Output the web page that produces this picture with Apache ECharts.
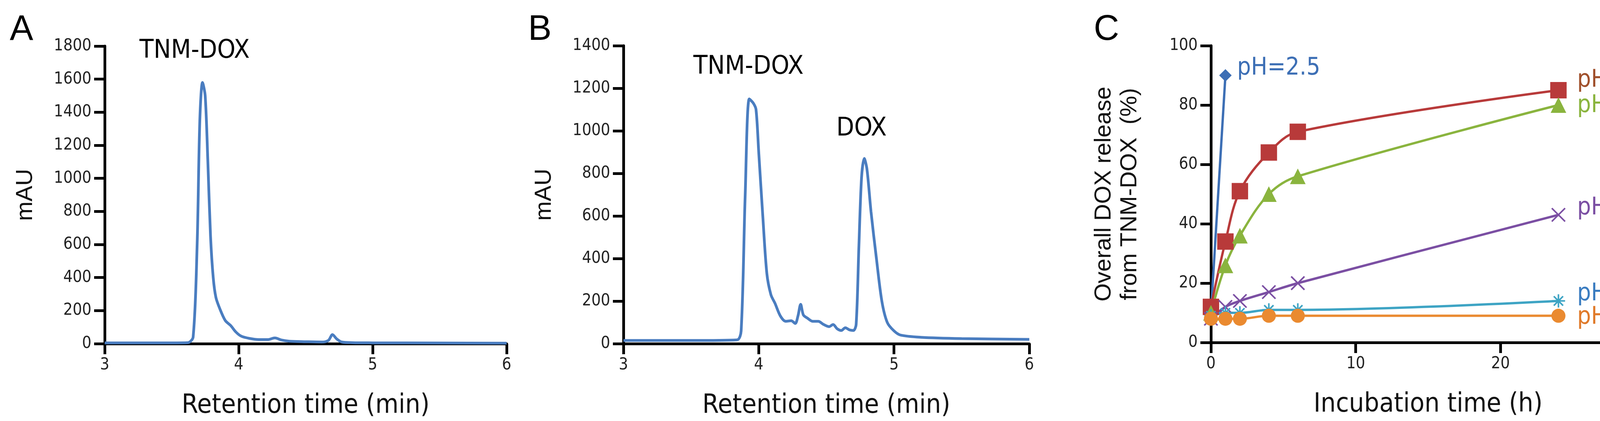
<!DOCTYPE html>
<html><head><meta charset="utf-8">
<script src="https://cdn.jsdelivr.net/npm/echarts@6/dist/echarts.min.js"></script>
<style>html,body{margin:0;padding:0;background:#fff}#c{width:4271px;height:1078px}</style>
</head><body><div id="c"></div>
<script>
// Panel A chromatogram (retention time min, mAU)
const timeA = [3.0,3.5,3.62,3.66,3.69,3.71,3.73,3.75,3.77,3.79,3.81,3.83,3.86,3.9,3.94,3.98,4.02,4.08,4.15,4.22,4.27,4.32,4.38,4.5,4.62,4.67,4.7,4.73,4.77,4.85,5.0,5.5,6.0];
const mauA  = [5,5,6,40,600,1350,1580,1500,1100,650,400,280,210,140,110,70,45,32,25,25,35,22,15,12,10,20,55,30,10,6,5,4,3];
// Panel B chromatogram
const timeB = [3.0,3.5,3.84,3.87,3.9,3.93,3.96,3.98,4.0,4.03,4.06,4.09,4.12,4.16,4.2,4.24,4.27,4.29,4.31,4.33,4.36,4.4,4.44,4.48,4.52,4.55,4.58,4.61,4.64,4.67,4.7,4.72,4.74,4.76,4.78,4.8,4.83,4.87,4.91,4.95,5.0,5.05,5.2,5.5,6.0];
const mauB  = [15,15,18,60,700,1150,1130,1100,900,600,330,230,190,130,105,108,95,130,185,135,120,105,105,90,80,90,70,62,75,65,62,90,450,780,870,820,620,400,200,100,60,40,30,24,20];
// Panel C release profiles (h, %)
const hours = [0,1,2,4,6,24];
const ph25 = [[0,10],[1,90]];
const ph46 = [12,34,51,64,71,85];
const ph50 = [10,26,36,50,56,80];
const ph55 = [8,12,14,17,20,43];
const ph64 = [9,10,10,11,11,14];
const ph74 = [8,8,8,9,9,9];

const F = '"Liberation Sans Narrow", "DejaVu Sans Condensed", "Liberation Sans", Arial, sans-serif';
const FS = '"Liberation Sans", Arial, sans-serif';
const axC = '#000';
function xAx(gi, min, max, interval, name){
  return {type:'value', gridIndex:gi, min, max, interval, name, nameLocation:'middle', nameGap:125,
    nameTextStyle:{fontSize:68, fontFamily:F, color:'#111'},
    axisLine:{lineStyle:{color:axC,width:7}}, axisTick:{length:27,lineStyle:{color:axC,width:7}},
    axisLabel:{fontSize:42, fontFamily:F, color:'#222', margin:34, formatter:v=>String(v)}, splitLine:{show:false}};
}
function yAx(gi, min, max, interval, name, gap, fs){
  return {type:'value', gridIndex:gi, min, max, interval, name, nameLocation:'middle', nameGap:gap,
    nameTextStyle:{fontSize:fs, fontFamily:FS, color:'#111', lineHeight:fs*1.1},
    axisLine:{show:true,lineStyle:{color:axC,width:7}}, axisTick:{show:true,length:27,lineStyle:{color:axC,width:7}},
    axisLabel:{fontSize:42, fontFamily:F, color:'#222', margin:34, formatter:v=>String(v)}, splitLine:{show:false}};
}
const chart = echarts.init(document.getElementById('c'));
const blue = '#4a7dc0';
const cSeries = [
  {name:'pH=2.5', data:ph25, color:'#3d6fb5', sym:'diamond', size:32, lc:'#3d6fb5', off:[0,-18], dist:30},
  {name:'pH=4.6', data:hours.map((h,i)=>[h,ph46[i]]), color:'#b83a3a', sym:'rect', size:42, lc:'#a0502c', off:[0,-25], dist:48},
  {name:'pH=5.0', data:hours.map((h,i)=>[h,ph50[i]]), color:'#8ab43e', sym:'triangle', size:40, lc:'#8ab43e', off:[0,2], dist:48},
  {name:'pH=5.5', data:hours.map((h,i)=>[h,ph55[i]]), color:'#7b4fa3', sym:'path://M0,0L10,10M10,0L0,10', size:34, lc:'#7b4fa3', off:[0,-17], dist:48, cross:true},
  {name:'pH=6.4', data:hours.map((h,i)=>[h,ph64[i]]), color:'#3ea4c4', sym:'path://M5,0L5,10M0,5L10,5M1.5,1.5L8.5,8.5M8.5,1.5L1.5,8.5', size:34, lc:'#3a7cc0', off:[0,-18], dist:48, cross:true},
  {name:'pH=7.4', data:hours.map((h,i)=>[h,ph74[i]]), color:'#ea8a30', sym:'circle', size:36, lc:'#e07a2a', off:[0,4], dist:48}
];
const series = [
  {type:'line', xAxisIndex:0, yAxisIndex:0, data:timeA.map((t,i)=>[t,mauA[i]]), smooth:0.3, showSymbol:false, lineStyle:{color:blue,width:7}},
  {type:'line', xAxisIndex:1, yAxisIndex:1, data:timeB.map((t,i)=>[t,mauB[i]]), smooth:0.3, showSymbol:false, lineStyle:{color:blue,width:7}}
];
cSeries.forEach(s=>{
  series.push({type:'line', xAxisIndex:2, yAxisIndex:2, data:s.data, smooth:0.35, symbol:s.sym, symbolSize:s.size,
    itemStyle: s.cross ? {color:'none', borderColor:s.color, borderWidth:4} : {color:s.color},
    lineStyle:{color:s.color,width:6},
    endLabel:{show:true, formatter:s.name, color:s.lc, fontSize:62, fontFamily:F, distance:s.dist, offset:s.off}
  });
});
chart.setOption({
  animation:false,
  grid:[
    {left:268, width:1029, top:118, height:771},
    {left:1596, width:1039, top:117, height:770},
    {left:3100, width:1112, top:117, height:760}
  ],
  xAxis:[ xAx(0,3,6,1,'Retention time (min)'), xAx(1,3,6,1,'Retention time (min)'), xAx(2,0,30,10,'Incubation time (h)') ],
  yAxis:[ yAx(0,0,1800,200,'mAU',170,60), yAx(1,0,1400,200,'mAU',170,60), yAx(2,0,100,20,'Overall DOX release\nfrom TNM-DOX  (%)',175,60) ],
  graphic:[
    {type:'text', left:25, top:32, style:{text:'A', fontSize:90, fontFamily:FS, fill:'#000'}},
    {type:'text', left:1352, top:32, style:{text:'B', fontSize:90, fontFamily:FS, fill:'#000'}},
    {type:'text', left:2800, top:32, style:{text:'C', fontSize:90, fontFamily:FS, fill:'#000'}},
    {type:'text', left:357, top:98, style:{text:'TNM-DOX', fontSize:66, fontFamily:F, fill:'#000'}},
    {type:'text', left:1775, top:139, style:{text:'TNM-DOX', fontSize:66, fontFamily:F, fill:'#000'}},
    {type:'text', left:2141, top:297, style:{text:'DOX', fontSize:66, fontFamily:F, fill:'#000'}}
  ],
  series
});
</script></body></html>
